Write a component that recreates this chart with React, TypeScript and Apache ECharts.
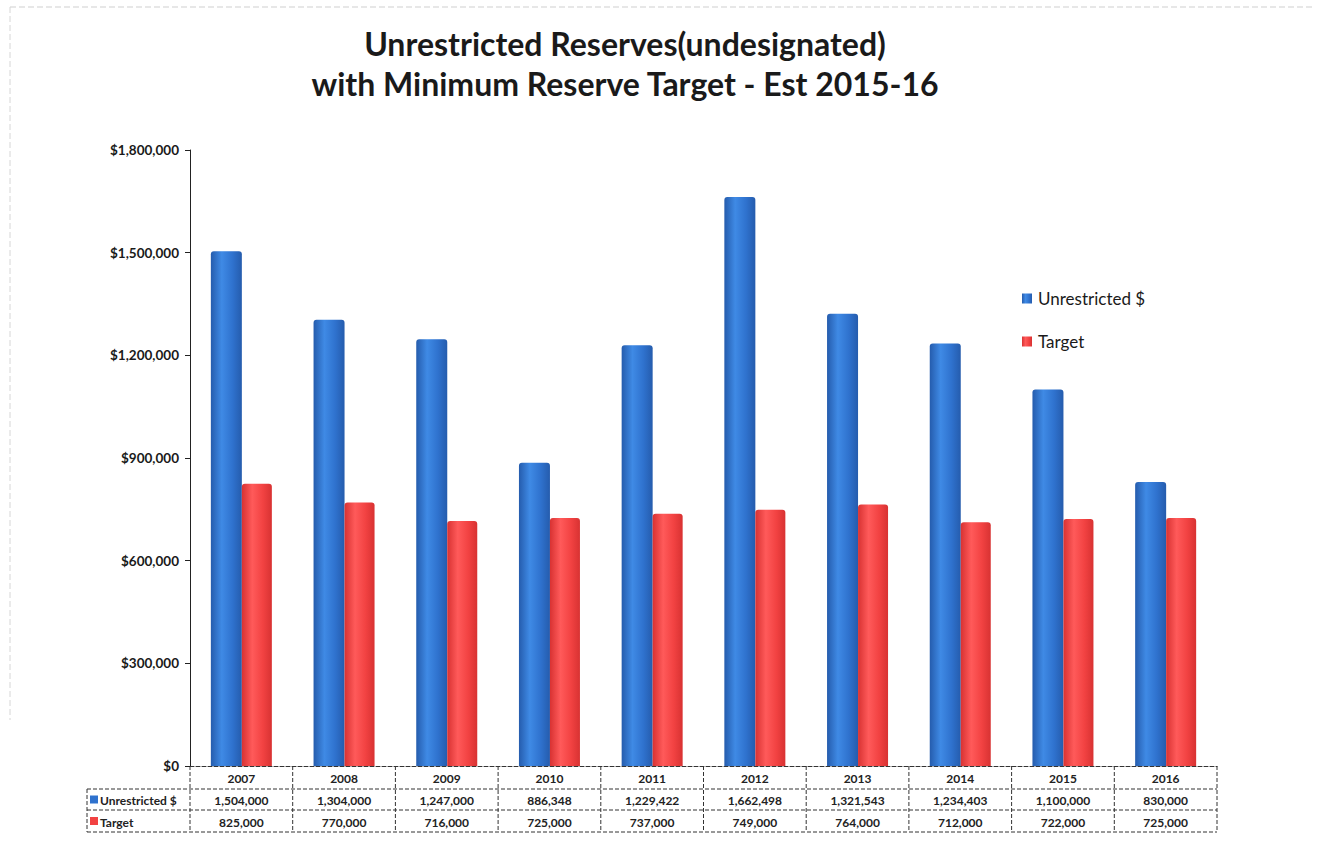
import React, { useEffect, useRef } from "react";
import * as echarts from "echarts";

// Fiscal years and reserve figures
const years = ["2007", "2008", "2009", "2010", "2011", "2012", "2013", "2014", "2015", "2016"];
const unrestricted = [1504000, 1304000, 1247000, 886348, 1229422, 1662498, 1321543, 1234403, 1100000, 830000];
const target = [825000, 770000, 716000, 725000, 737000, 749000, 764000, 712000, 722000, 725000];
const seriesNames = ["Unrestricted $", "Target"];

const BLUE = "#2f72ce";
const RED = "#f24242";
const FONT = "Lato, 'Open Sans', sans-serif";

const GRID = { left: 190, right: 105, top: 150, bottom: 97 };
const TABLE_LEFT = 87;
const ROW_H = [23, 21, 22];

const fmt = (v: number) => v.toLocaleString("en-US");

function cylinder(base: string, light: string, dark: string) {
  return new echarts.graphic.LinearGradient(0, 0, 1, 0, [
    { offset: 0, color: dark },
    { offset: 0.35, color: light },
    { offset: 0.7, color: base },
    { offset: 1, color: dark },
  ]);
}

export default function App() {
  const ref = useRef<HTMLDivElement>(null);

  useEffect(() => {
    if (!ref.current) return;
    const chart = echarts.init(ref.current, undefined, { renderer: "svg" });

    chart.setOption({
      animation: false,
      backgroundColor: "#ffffff",
      title: {
        text: "Unrestricted Reserves(undesignated)\nwith Minimum Reserve Target - Est 2015-16",
        left: 620,
        textAlign: "center",
        top: 18,
        textStyle: {
          fontFamily: FONT,
          fontWeight: "bold",
          fontSize: 32,
          lineHeight: 40,
          color: "#1a1a1a",
        },
      },
      legend: {
        orient: "vertical",
        left: 1017,
        top: 285,
        itemWidth: 10,
        itemHeight: 10,
        itemGap: 26,
        icon: "rect",
        data: seriesNames,
        textStyle: { fontFamily: FONT, fontSize: 17, color: "#1a1a1a", padding: [0, 0, 0, 1] },
      },
      grid: GRID,
      xAxis: {
        type: "category",
        data: years,
        axisLine: { show: true, lineStyle: { color: "#333", type: [4, 2], width: 1 } },
        axisTick: { show: false },
        axisLabel: { show: false },
      },
      yAxis: {
        type: "value",
        min: 0,
        max: 1800000,
        interval: 300000,
        splitLine: { show: false },
        axisLine: { show: true, lineStyle: { color: "#222", width: 1 } },
        axisTick: { show: true, length: 5, lineStyle: { color: "#222" } },
        axisLabel: {
          formatter: (v: number) => "$" + fmt(v),
          fontFamily: FONT,
          fontWeight: "bold",
          fontSize: 13.5,
          color: "#1a1a1a",
          margin: 11,
        },
      },
      series: [
        {
          name: seriesNames[0],
          type: "bar",
          data: unrestricted,
          barWidth: 31,
          barGap: "0%",
          itemStyle: {
            color: cylinder(BLUE, "#3f8ae5", "#255cad"),
            borderRadius: [3, 3, 0, 0],
          },
        },
        {
          name: seriesNames[1],
          type: "bar",
          data: target,
          barWidth: 30,
          itemStyle: {
            color: cylinder(RED, "#ff5a5a", "#d83232"),
            borderRadius: [3, 3, 0, 0],
          },
        },
      ],
    });

    // Data table under the plot, aligned with the category axis
    const left0 = chart.convertToPixel({ xAxisIndex: 0 }, 0) as number;
    const left1 = chart.convertToPixel({ xAxisIndex: 0 }, 1) as number;
    const band = left1 - left0;
    const plotLeft = left0 - band / 2;
    const plotRight = plotLeft + band * years.length;
    const y0 = chart.convertToPixel({ yAxisIndex: 0 }, 0) as number;
    const y1 = y0 + ROW_H[0];
    const y2 = y1 + ROW_H[1];
    const y3 = y2 + ROW_H[2];

    const dash = { stroke: "#333", lineWidth: 1, lineDash: [4, 2] };
    const graphics: any[] = [];
    const hline = (x1: number, x2: number, y: number) =>
      graphics.push({ type: "line", silent: true, shape: { x1, y1: y, x2, y2: y }, style: dash });
    const vline = (x: number, ya: number, yb: number) =>
      graphics.push({ type: "line", silent: true, shape: { x1: x, y1: ya, x2: x, y2: yb }, style: dash });

    hline(TABLE_LEFT, plotRight, y1);
    hline(TABLE_LEFT, plotRight, y2);
    hline(TABLE_LEFT, plotRight, y3);
    vline(TABLE_LEFT, y1, y3);
    for (let i = 0; i <= years.length; i++) vline(plotLeft + band * i, y0, y3);

    const cellText = (text: string, x: number, y: number, align = "center") =>
      graphics.push({
        type: "text",
        silent: true,
        x,
        y,
        style: {
          text,
          align,
          verticalAlign: "middle",
          fontFamily: FONT,
          fontWeight: "bold",
          fontSize: 12,
          fill: "#222",
        },
      });

    const rows = [unrestricted, target];
    const rowMid = [(y1 + y2) / 2, (y2 + y3) / 2];
    years.forEach((yr, i) => {
      const cx = chart.convertToPixel({ xAxisIndex: 0 }, i) as number;
      cellText(yr, cx, (y0 + y1) / 2 + 1);
      rows.forEach((r, k) => cellText(fmt(r[i]), cx, rowMid[k] + 1));
    });
    [BLUE, RED].forEach((c, k) => {
      graphics.push({
        type: "rect",
        silent: true,
        shape: { x: TABLE_LEFT + 3, y: rowMid[k] - 4, width: 8, height: 8 },
        style: { fill: c },
      });
      cellText(seriesNames[k], TABLE_LEFT + 13, rowMid[k] + 1, "left");
    });

    // Faint page edge
    graphics.push({
      type: "line",
      silent: true,
      shape: { x1: 10, y1: 7, x2: 1312, y2: 7 },
      style: { stroke: "#cfcfcf", lineWidth: 1, lineDash: [6, 3] },
    });
    graphics.push({
      type: "line",
      silent: true,
      shape: { x1: 10, y1: 7, x2: 10, y2: 720 },
      style: { stroke: "#d6d6d6", lineWidth: 1, lineDash: [6, 3] },
    });

    chart.setOption({ graphic: graphics });

    return () => chart.dispose();
  }, []);

  return (
    <div
      ref={ref}
      style={{ position: "fixed", left: 0, top: 0, width: 1322, height: 863, background: "#fff" }}
    />
  );
}
